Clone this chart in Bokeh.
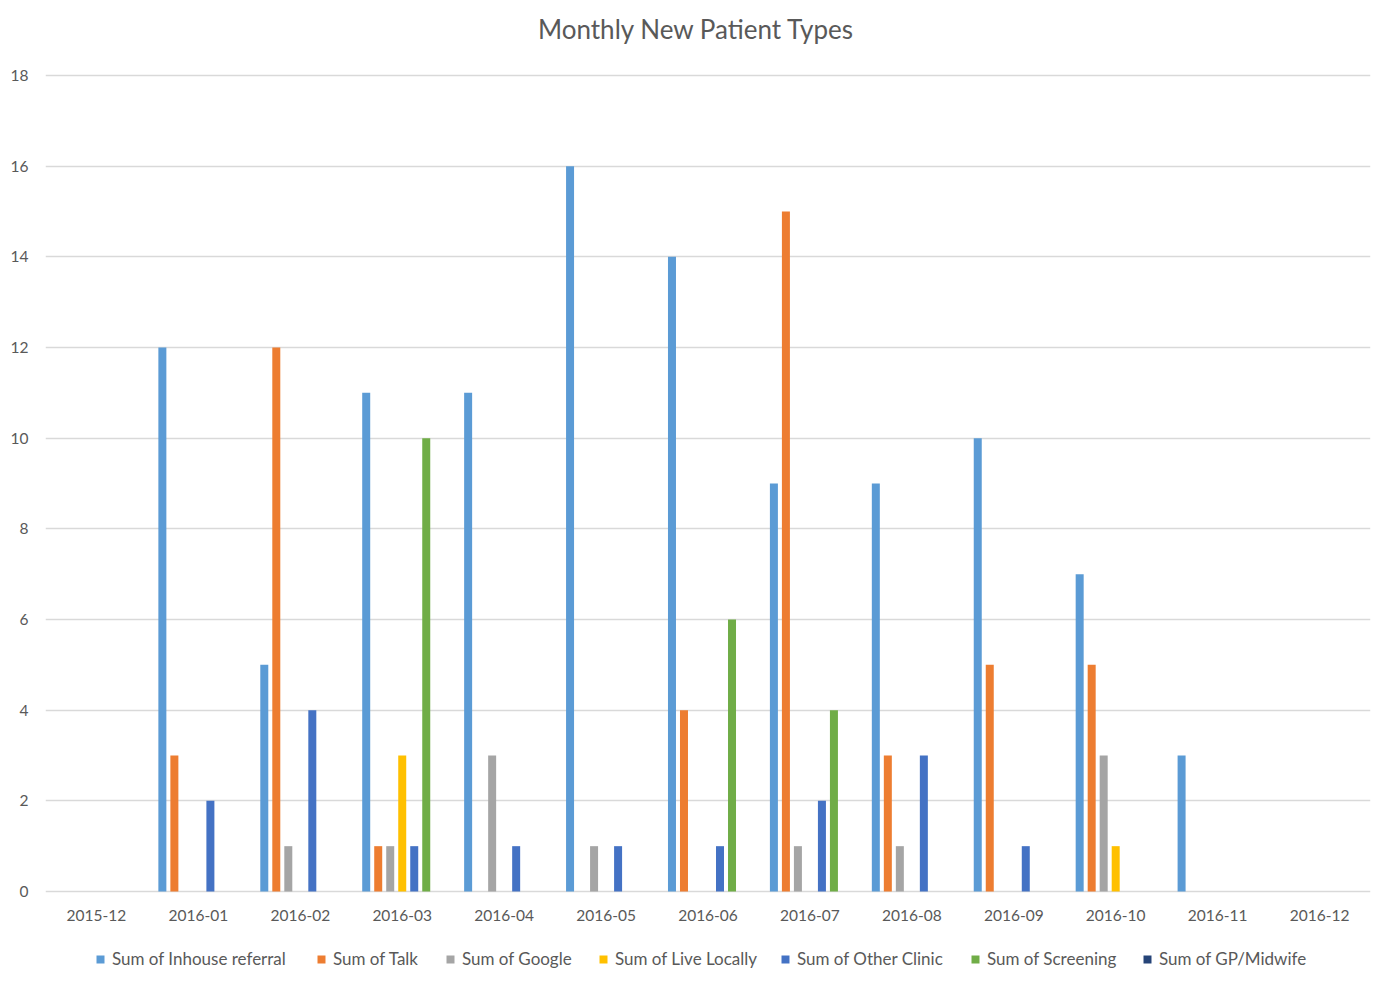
from bokeh.plotting import figure
from bokeh.models import Range1d, FactorRange, ColumnDataSource, Legend, LegendItem, Label
from bokeh.core.properties import value
from bokeh.transform import dodge
from bokeh.embed import file_html
from bokeh.resources import INLINE

months = ["2015-12", "2016-01", "2016-02", "2016-03", "2016-04", "2016-05", "2016-06",
          "2016-07", "2016-08", "2016-09", "2016-10", "2016-11", "2016-12"]
inhouse = [0, 12, 5, 11, 11, 16, 14, 9, 9, 10, 7, 3, 0]
talk = [0, 3, 12, 1, 0, 0, 4, 15, 3, 5, 5, 0, 0]
google = [0, 0, 1, 1, 3, 1, 0, 1, 1, 0, 3, 0, 0]
live_locally = [0, 0, 0, 3, 0, 0, 0, 0, 0, 0, 1, 0, 0]
other_clinic = [0, 2, 4, 1, 1, 1, 1, 2, 3, 1, 0, 0, 0]
screening = [0, 0, 0, 10, 0, 0, 6, 4, 0, 0, 0, 0, 0]
gp_midwife = [0, 0, 0, 0, 0, 0, 0, 0, 0, 0, 0, 0, 0]
y_ticks = [0, 2, 4, 6, 8, 10, 12, 14, 16, 18]

series = [
    ("Sum of Inhouse referral", inhouse, "#5B9BD5"),
    ("Sum of Talk", talk, "#ED7D31"),
    ("Sum of Google", google, "#A5A5A5"),
    ("Sum of Live Locally", live_locally, "#FFC000"),
    ("Sum of Other Clinic", other_clinic, "#4472C4"),
    ("Sum of Screening", screening, "#70AD47"),
    ("Sum of GP/Midwife", gp_midwife, "#264478"),
]

FONT = "Lato"
TXT = "#595959"

# layout (pixels)
W, H = 1374, 976
LEFT, RIGHT = 45, 4
ZERO_Y, TOP_Y = 891, 75          # pixel rows of 0 and 18
ppu = (ZERO_Y - TOP_Y) / 18.0    # pixels per unit
y_lo = -(H - ZERO_Y) / ppu
y_hi = ZERO_Y / ppu

data = {"month": months}
for i, (name, vals, col) in enumerate(series):
    data["s%d" % i] = vals
src = ColumnDataSource(data)

p = figure(width=W, height=H, x_range=FactorRange(*months, range_padding=0),
           y_range=Range1d(y_lo, y_hi), output_backend="svg", toolbar_location=None,
           min_border_left=LEFT, min_border_right=RIGHT, min_border_top=0, min_border_bottom=0)
p.outline_line_color = None
p.xaxis.visible = False

step = 0.1178
w = 0.0785
renderers = []
for i, (name, vals, col) in enumerate(series):
    r = p.vbar(x=dodge("month", (i - 3) * step, range=p.x_range), top="s%d" % i, width=w,
               source=src, fill_color=col, line_color=None)
    renderers.append(r)

# month labels (category axis)
p.text(x="month", y=-24 / ppu, text="month", source=src,
       text_font=value(FONT), text_font_size="15.5px", text_color=TXT,
       text_align="center", text_baseline="middle")

# title
p.add_layout(Label(x=(696 - LEFT) / ((W - LEFT - RIGHT) / len(months)), y=(ZERO_Y - 28) / ppu,
                   text="Monthly New Patient Types", text_font=FONT, text_font_size="26px",
                   text_color=TXT, text_align="center", text_baseline="middle"))

# legend: one entry per series, positioned like the reference
legend_x = [97, 318, 447, 600, 782, 972, 1144]
for i, (name, vals, col) in enumerate(series):
    lg = Legend(items=[LegendItem(label=name, renderers=[renderers[i]])],
                location=(legend_x[i] - LEFT - 2, H - 958 - 11),
                label_text_font=FONT, label_text_font_size="17px", label_text_color=TXT,
                glyph_width=10, glyph_height=10, label_standoff=7,
                border_line_color=None, background_fill_alpha=0, padding=2, margin=0)
    p.add_layout(lg, "center")

p.yaxis.ticker = y_ticks
p.yaxis.axis_line_color = None
p.yaxis.major_tick_line_color = None
p.yaxis.minor_tick_line_color = None
p.yaxis.major_label_text_font = FONT
p.yaxis.major_label_text_font_size = "15.5px"
p.yaxis.major_label_text_color = TXT
p.yaxis.major_label_standoff = 11

p.xgrid.grid_line_color = None
p.ygrid.grid_line_color = "#D9D9D9"
p.ygrid.grid_line_width = 1.5

open("out.html", "w").write(file_html(p, INLINE))
